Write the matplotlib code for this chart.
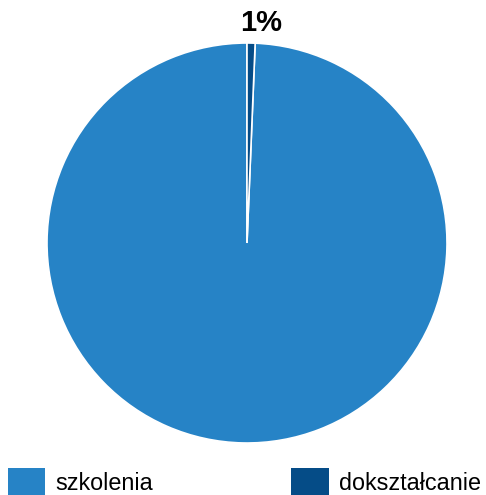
import matplotlib.pyplot as plt
from matplotlib.patches import Patch
import numpy as np

plt.rcParams['font.family'] = ['Liberation Sans', 'DejaVu Sans']

categories = ["szkolenia", "dokształcanie"]
values = [99.35, 0.65]
colors = ["#2683C6", "#054C87"]
pct_labels = ["", "1%"]

fig = plt.figure(figsize=(4.86, 4.95), dpi=100)
ax = fig.add_axes([47 / 486, 52 / 495, 400 / 486, 400 / 495])

wedges, _ = ax.pie(values, colors=colors, startangle=90, counterclock=True,
                   wedgeprops=dict(edgecolor="white", linewidth=1.2))
ax.set_aspect("equal")
ax.set_xlim(-1, 1)
ax.set_ylim(-1, 1)

for w, lab in zip(wedges, pct_labels):
    if not lab:
        continue
    mid = np.deg2rad((w.theta1 + w.theta2) / 2)
    ax.text(1.1 * np.cos(mid) + 0.05, 1.1 * np.sin(mid), lab, ha="center", va="center",
            fontsize=21, fontweight="heavy")

handles = [Patch(facecolor=c, edgecolor="none") for c in colors]
fig.legend(handles, categories, loc="lower left", bbox_to_anchor=(8 / 486, -1 / 495),
           ncol=2, frameon=False, fontsize=16.8, borderpad=0, borderaxespad=0,
           handlelength=1.6, handleheight=1.45, handletextpad=0.45, columnspacing=5.9)

fig.savefig("out.png", dpi=100)
